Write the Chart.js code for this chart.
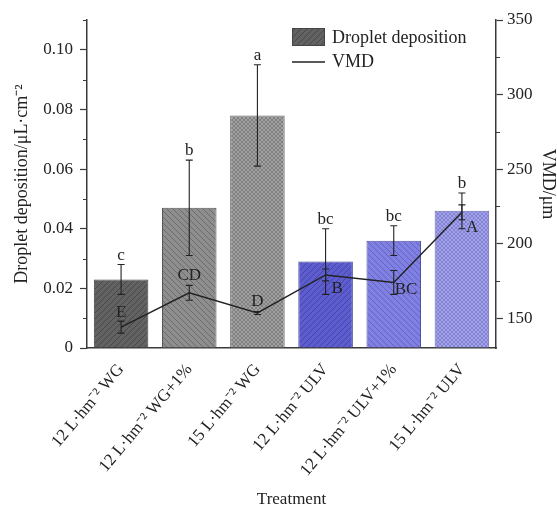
<!DOCTYPE html>
<html><head><meta charset="utf-8">
<script src="https://cdn.jsdelivr.net/npm/chart.js@4.4.1/dist/chart.umd.min.js"></script>
<style>html,body{margin:0;padding:0;background:#fff}canvas{display:block}</style>
</head><body>
<canvas id="c" width="557" height="509"></canvas>
<script>
// ---- data ----
const categories = ["12 L·hm⁻² WG", "12 L·hm⁻² WG+1%", "15 L·hm⁻² WG", "12 L·hm⁻² ULV", "12 L·hm⁻² ULV+1%", "15 L·hm⁻² ULV"];
const deposition = [0.023, 0.047, 0.078, 0.029, 0.036, 0.046];
const depositionErr = [0.005, 0.016, 0.017, 0.011, 0.005, 0.006];
const depositionLetters = ["c", "b", "a", "bc", "bc", "b"];
const vmd = [144, 167, 153.5, 179, 174, 221];
const vmdErr = [4, 5, 1, 4, 8, 5];
const vmdLetters = ["E", "CD", "D", "B", "BC", "A"];
const depTicks = [0, 0.02, 0.04, 0.06, 0.08, 0.10];
const depMinorTicks = [0.01, 0.03, 0.05, 0.07, 0.09, 0.11];
const vmdTicks = [150, 200, 250, 300, 350];
const vmdMinorTicks = [175, 225, 275, 325];

// ---- styles ----
const FONT = "'Liberation Serif','Times New Roman',serif";
Chart.defaults.font.family = FONT;
Chart.defaults.color = '#222';
const AXIS = '#3a3a3a';

function hatch(bg, fg, kind, size) {
  const c = document.createElement('canvas');
  c.width = size; c.height = size;
  const g = c.getContext('2d');
  g.fillStyle = bg; g.fillRect(0, 0, size, size);
  g.strokeStyle = fg; g.lineWidth = 1;
  g.beginPath();
  if (kind === '/' || kind === 'x') {
    g.moveTo(-1, size + 1); g.lineTo(size + 1, -1);
    g.moveTo(-1, 1); g.lineTo(1, -1);
    g.moveTo(size - 1, size + 1); g.lineTo(size + 1, size - 1);
  }
  if (kind === '\\' || kind === 'x') {
    g.moveTo(-1, -1); g.lineTo(size + 1, size + 1);
    g.moveTo(size - 1, -1); g.lineTo(size + 1, 1);
    g.moveTo(-1, size - 1); g.lineTo(1, size + 1);
  }
  g.stroke();
  return g.createPattern(c, 'repeat');
}
const ctx0 = document.getElementById('c').getContext('2d');
const barFills = [
  hatch('#626262', '#484848', '/', 6),
  hatch('#8e8e8e', '#6c6c6c', '\\', 6),
  hatch('#a2a2a2', '#808080', 'x', 4),
  hatch('#5d5dcf', '#4646a8', '/', 6),
  hatch('#8080e2', '#6464c4', '\\', 6),
  hatch('#a3a3ec', '#8383d2', 'x', 4)
];
const barBorders = ['#444', '#555', '#666', '#3c3c8c', '#5050a0', '#6a6ab0'];

const overlay = {
  id: 'overlay',
  afterDatasetsDraw(chart) {
    const ctx = chart.ctx, xs = chart.scales.x, ys = chart.scales.y, y1 = chart.scales.y1;
    ctx.save();
    function errBar(cx, top, bot) {
      ctx.strokeStyle = '#222'; ctx.lineWidth = 1.1;
      ctx.beginPath();
      ctx.moveTo(cx, top); ctx.lineTo(cx, bot);
      ctx.moveTo(cx - 3.5, top); ctx.lineTo(cx + 3.5, top);
      ctx.moveTo(cx - 3.5, bot); ctx.lineTo(cx + 3.5, bot);
      ctx.stroke();
    }
    ctx.font = "17px " + FONT;
    ctx.fillStyle = '#222';
    ctx.textBaseline = 'alphabetic';
    const vOff = [
      {dx: 0, base: 'top', dy: -4, align: 'center'},
      {dx: 0, base: 'top', dy: -5, align: 'center'},
      {dx: 0, base: 'top', dy: -5, align: 'center'},
      {dx: 6, base: 'pt', dy: 18, align: 'left'},
      {dx: 1, base: 'pt', dy: 12, align: 'left'},
      {dx: 4, base: 'pt', dy: 20, align: 'left'}
    ];
    categories.forEach((c, i) => {
      const cx = xs.getPixelForValue(i);
      const t = ys.getPixelForValue(deposition[i] + depositionErr[i]);
      const b = ys.getPixelForValue(deposition[i] - depositionErr[i]);
      errBar(cx, t, b);
      ctx.textAlign = 'center';
      ctx.fillText(depositionLetters[i], cx, t - 5);
      const vt = y1.getPixelForValue(vmd[i] + vmdErr[i]);
      const vb = y1.getPixelForValue(vmd[i] - vmdErr[i]);
      const vp = y1.getPixelForValue(vmd[i]);
      errBar(cx, vt, vb);
      const o = vOff[i];
      ctx.textAlign = o.align;
      ctx.fillText(vmdLetters[i], cx + o.dx, (o.base === 'top' ? vt : vp) + o.dy);
    });
    ctx.restore();
  },
  afterDraw(chart) {
    const ctx = chart.ctx, ys = chart.scales.y, y1 = chart.scales.y1, a = chart.chartArea;
    ctx.save();
    ctx.strokeStyle = AXIS; ctx.lineWidth = 1.2;
    ctx.beginPath();
    depMinorTicks.forEach(v => { const p = Math.round(ys.getPixelForValue(v)) + 0.5; ctx.moveTo(a.left - 4, p); ctx.lineTo(a.left, p); });
    vmdMinorTicks.forEach(v => { const p = Math.round(y1.getPixelForValue(v)) + 0.5; ctx.moveTo(a.right, p); ctx.lineTo(a.right + 4, p); });
    ctx.stroke();
    // legend
    const lx = 292, ly = 28;
    ctx.fillStyle = barFills[0];
    ctx.fillRect(lx, ly, 33, 18);
    ctx.strokeStyle = '#444'; ctx.lineWidth = 1;
    ctx.strokeRect(lx + 0.5, ly + 0.5, 32, 17);
    ctx.strokeStyle = '#222'; ctx.lineWidth = 1.5;
    ctx.beginPath(); ctx.moveTo(lx, 62); ctx.lineTo(lx + 33, 62); ctx.stroke();
    ctx.fillStyle = '#222';
    ctx.font = "18px " + FONT;
    ctx.textAlign = 'left'; ctx.textBaseline = 'middle';
    ctx.fillText('Droplet deposition', 332, 38);
    ctx.fillText('VMD', 332, 62);
    ctx.restore();
  }
};

new Chart(ctx0, {
  data: {
    labels: categories,
    datasets: [
      {
        type: 'line', label: 'VMD', data: vmd, yAxisID: 'y1',
        borderColor: '#222', borderWidth: 1.4, pointRadius: 0, tension: 0, order: 0
      },
      {
        type: 'bar', label: 'Droplet deposition', data: deposition, yAxisID: 'y',
        backgroundColor: barFills, borderColor: barBorders, borderWidth: 1,
        barPercentage: 0.8, categoryPercentage: 1.0, order: 1
      }
    ]
  },
  options: {
    responsive: false, animation: false, devicePixelRatio: 1,
    layout: {padding: {top: 20, left: 0, right: 0, bottom: 0}},
    plugins: {legend: {display: false}, tooltip: {enabled: false}},
    scales: {
      x: {
        grid: {display: false},
        border: {display: true, color: AXIS, width: 1.5},
        ticks: {font: {size: 17}, minRotation: 50, maxRotation: 50, padding: 4, color: '#222', autoSkip: false},
        title: {display: true, text: 'Treatment', font: {size: 17, lineHeight: 1}, padding: {top: 0, bottom: 1}, color: '#222'},
        afterFit(s) { s.height = 161; }
      },
      y: {
        position: 'left', min: 0, max: 0.11,
        afterBuildTicks(s) { s.ticks = depTicks.map(v => ({value: v})); },
        ticks: {font: {size: 17}, padding: 7, color: '#222', callback: v => v === 0 ? '0' : v.toFixed(2)},
        grid: {drawOnChartArea: false, drawTicks: true, tickLength: 7, tickColor: AXIS, tickWidth: 1.2},
        border: {color: AXIS, width: 1.5},
        title: {display: true, text: 'Droplet deposition/μL·cm⁻²', font: {size: 18, lineHeight: 1.2}, padding: {top: 11, bottom: 0}, color: '#222'},
        afterFit(s) { s.width = 87; }
      },
      y1: {
        position: 'right', min: 130, max: 350,
        afterBuildTicks(s) { s.ticks = vmdTicks.map(v => ({value: v})); },
        ticks: {font: {size: 17}, padding: 4, color: '#222'},
        grid: {drawOnChartArea: false, drawTicks: true, tickLength: 7, tickColor: AXIS, tickWidth: 1.2},
        border: {color: AXIS, width: 1.5},
        title: {display: true, text: 'VMD/μm', font: {size: 18, lineHeight: 1}, padding: {top: 0, bottom: 0}, color: '#222'},
        afterFit(s) { s.width = 61; }
      }
    }
  },
  plugins: [overlay]
});
</script>
</body></html>
